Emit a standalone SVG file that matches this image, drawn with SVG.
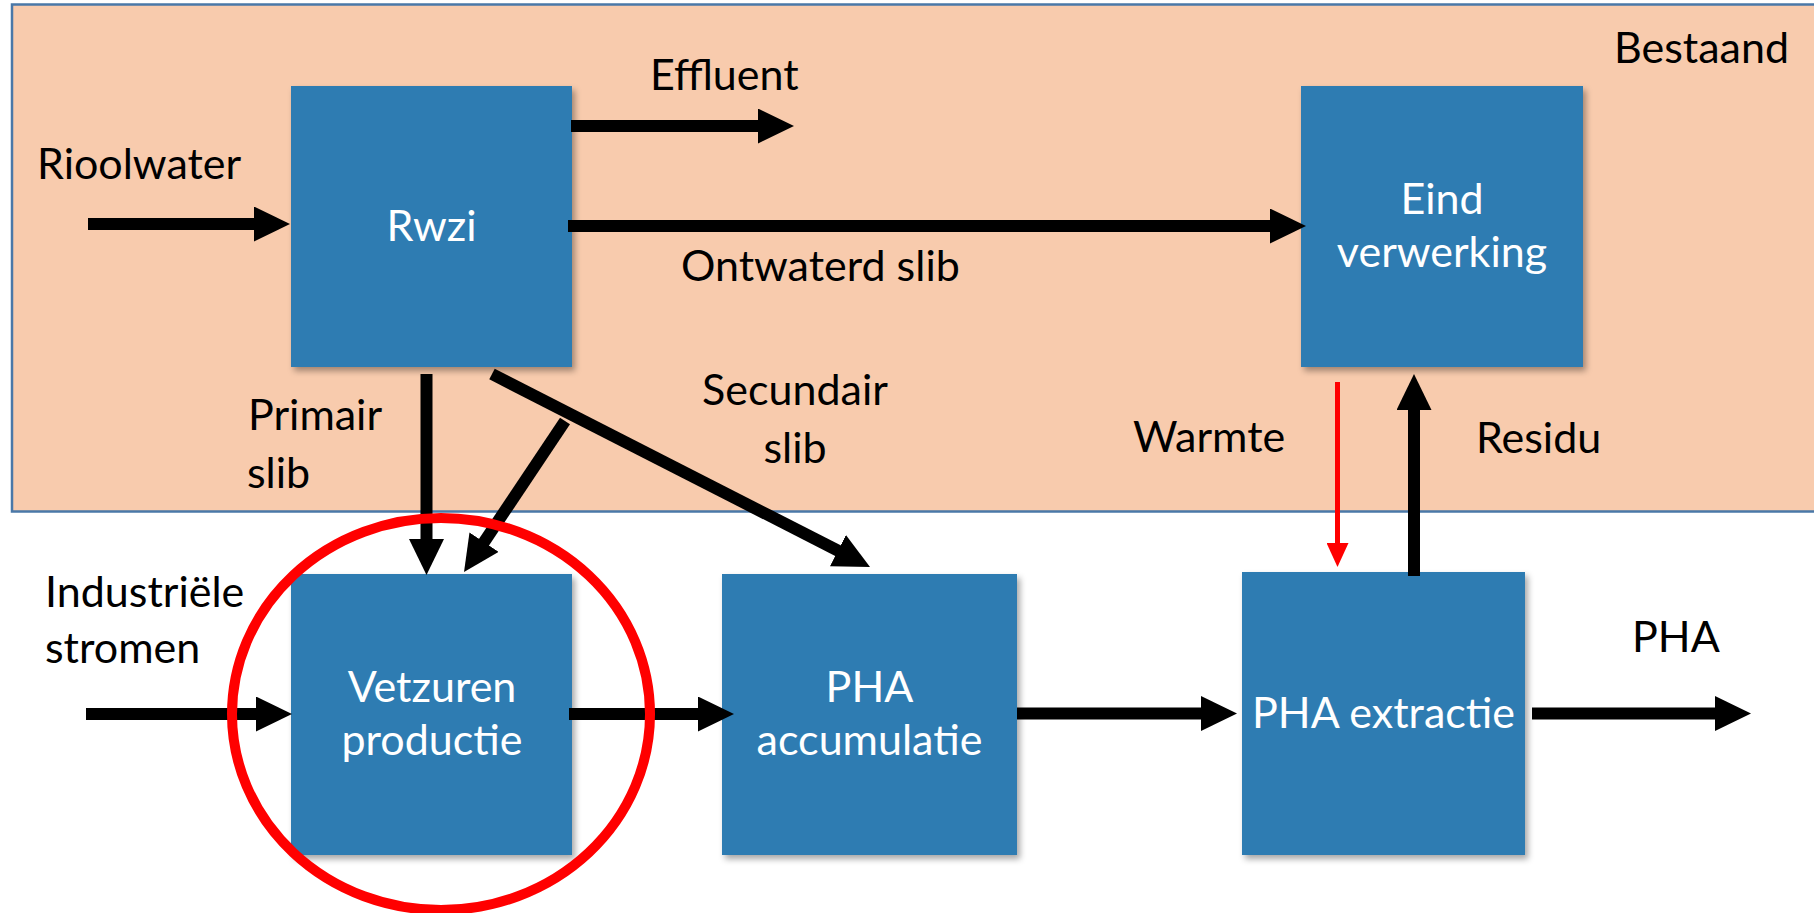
<svg xmlns="http://www.w3.org/2000/svg" width="1814" height="913" viewBox="0 0 1814 913">
<style>
.lbl{font-family:Lato,"Open Sans",sans-serif;font-size:43px;fill:#000}
.btx{font-family:Lato,"Open Sans",sans-serif;font-size:43px;fill:#fff;text-anchor:middle}
.box{fill:#2E7CB2}
.arr{stroke:#000;stroke-width:12;fill:none}
.red{stroke:#f00;stroke-width:5;fill:none}
</style>
<defs>
<marker id="ah" markerUnits="userSpaceOnUse" viewBox="0 0 36 35" markerWidth="36" markerHeight="35" refX="6" refY="17.5" orient="auto"><path d="M0,0 L36,17.5 L0,35 z" fill="#000"/></marker>
<marker id="ahr" markerUnits="userSpaceOnUse" viewBox="0 0 24 22" markerWidth="24" markerHeight="22" refX="4" refY="11" orient="auto"><path d="M0,0 L24,11 L0,22 z" fill="#f00"/></marker>
<filter id="sh" x="-10%" y="-10%" width="125%" height="125%"><feDropShadow dx="3" dy="4" stdDeviation="3" flood-color="#000" flood-opacity="0.35"/></filter>
</defs>
<rect x="0" y="0" width="1814" height="913" fill="#fff"/>
<g id="bestaand">
<rect x="12" y="4.5" width="1820" height="507" fill="#F8CBAD" stroke="#4A78A8" stroke-width="2.5"/>
<text class="lbl" x="1614" y="63">Bestaand</text>
</g>
<g id="rwzi"><rect class="box" x="291" y="86" width="281" height="281" filter="url(#sh)"/><text class="btx" x="431.5" y="241">Rwzi</text></g>
<g id="eind"><rect class="box" x="1301" y="86" width="282" height="281" filter="url(#sh)"/><text class="btx" x="1442" y="214">Eind</text><text class="btx" x="1442" y="267">verwerking</text></g>
<g id="vetzuren"><rect class="box" x="291" y="574" width="281" height="281" filter="url(#sh)"/><text class="btx" x="432" y="702">Vetzuren</text><text class="btx" x="432" y="755">productie</text></g>
<g id="accumulatie"><rect class="box" x="722" y="574" width="295" height="281" filter="url(#sh)"/><text class="btx" x="869.5" y="702">PHA</text><text class="btx" x="869.5" y="755">accumulatie</text></g>
<g id="extractie"><rect class="box" x="1242" y="572" width="283" height="283" filter="url(#sh)"/><text class="btx" x="1383.5" y="728">PHA extractie</text></g>
<g id="connectors">
<line class="arr" x1="88" y1="224" x2="260" y2="224" marker-end="url(#ah)"/>
<line class="arr" x1="571" y1="126" x2="764" y2="126" marker-end="url(#ah)"/>
<line class="arr" x1="568" y1="226" x2="1276" y2="226" marker-end="url(#ah)"/>
<line class="arr" x1="426.5" y1="374" x2="426.5" y2="545" marker-end="url(#ah)"/>
<line class="arr" x1="565" y1="421" x2="480.7" y2="547.1" marker-end="url(#ah)"/>
<line class="arr" x1="492" y1="374" x2="843.3" y2="553.4" marker-end="url(#ah)"/>
<line class="red" x1="1337.5" y1="382" x2="1337.5" y2="547" marker-end="url(#ahr)"/>
<line class="arr" x1="1414" y1="576" x2="1414" y2="404" marker-end="url(#ah)"/>
<line class="arr" x1="86" y1="714" x2="262" y2="714" marker-end="url(#ah)"/>
<line class="arr" x1="569" y1="714" x2="704" y2="714" marker-end="url(#ah)"/>
<line class="arr" x1="1017" y1="713.5" x2="1207" y2="713.5" marker-end="url(#ah)"/>
<line class="arr" x1="1532" y1="713.5" x2="1721" y2="713.5" marker-end="url(#ah)"/>
</g>
<g id="labels">
<text class="lbl" x="37" y="179">Rioolwater</text>
<text class="lbl" x="650" y="90">Effluent</text>
<text class="lbl" x="681" y="281">Ontwaterd slib</text>
<text class="lbl" x="248" y="430">Primair</text>
<text class="lbl" x="247" y="488">slib</text>
<text class="lbl" x="795" y="405" text-anchor="middle">Secundair</text>
<text class="lbl" x="795" y="463" text-anchor="middle">slib</text>
<text class="lbl" x="1133" y="452">Warmte</text>
<text class="lbl" x="1476" y="453">Residu</text>
<text class="lbl" x="45" y="607">Industriële</text>
<text class="lbl" x="45" y="663">stromen</text>
<text class="lbl" x="1632" y="652">PHA</text>
</g>
<g id="highlight"><ellipse cx="441" cy="714" rx="209" ry="196" fill="none" stroke="#f00" stroke-width="10"/></g>
</svg>
